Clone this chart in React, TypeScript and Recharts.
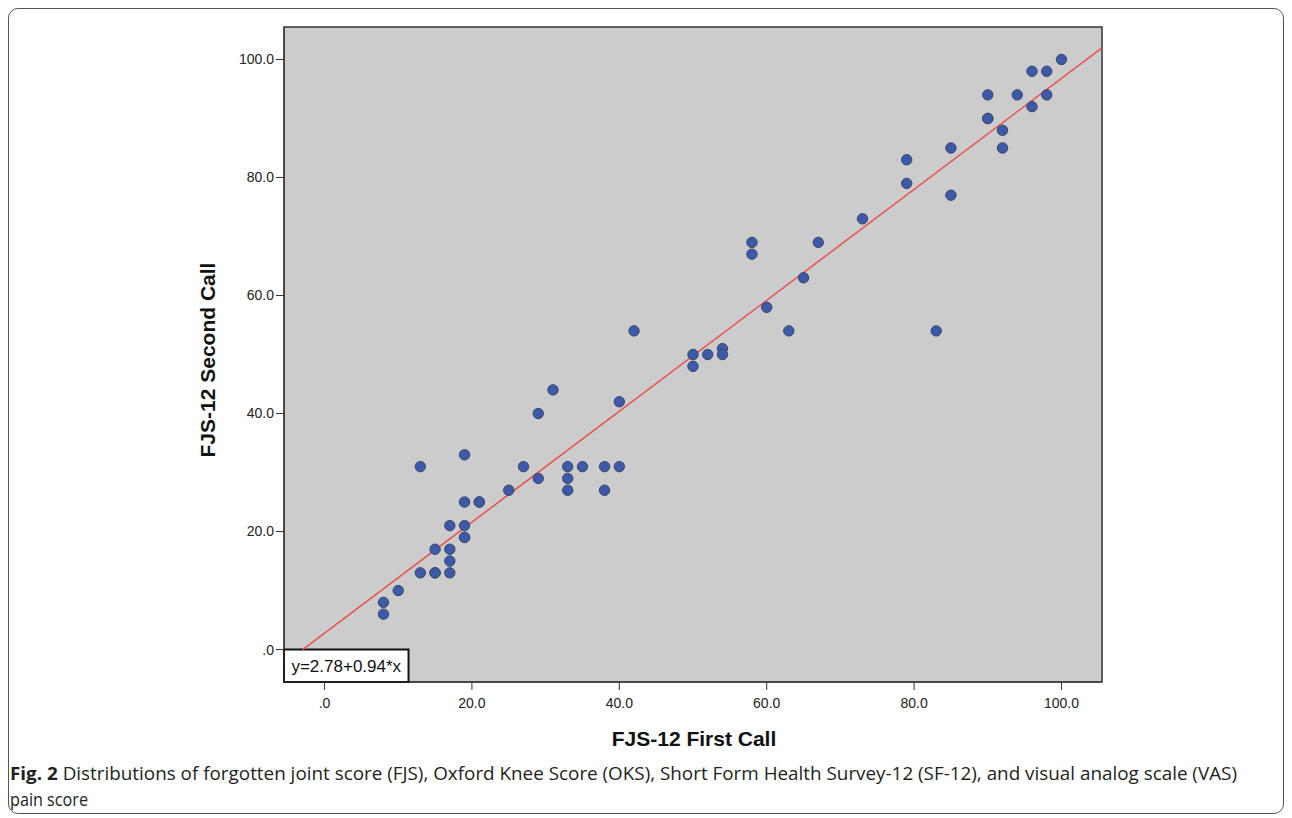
import {
  CartesianGrid,
  ReferenceArea,
  ReferenceLine,
  Scatter,
  ScatterChart,
  XAxis,
  YAxis,
} from "recharts";

// FJS-12 scores, one entry per patient (first call -> second call)
const firstCall = [
  8, 8, 10,
  13, 13,
  15, 15, 15,
  17, 17, 17, 17,
  19, 19, 19, 19, 19,
  21, 21,
  25, 27,
  29, 29,
  31,
  33, 33, 33,
  35,
  38, 38,
  40, 40,
  42,
  50, 50, 52, 54, 54,
  58, 58, 60, 63, 65, 67,
  73, 79, 79, 83, 85, 85,
  90, 90, 90, 92, 92, 94,
  96, 96, 98, 98, 100,
];

const secondCall = [
  8, 6, 10,
  31, 13,
  17, 13, 13,
  21, 17, 15, 13,
  33, 25, 21, 19, 19,
  25, 25,
  27, 31,
  40, 29,
  44,
  31, 29, 27,
  31,
  31, 27,
  42, 31,
  54,
  50, 48, 50, 51, 50,
  69, 67, 58, 54, 63, 69,
  73, 83, 79, 54, 85, 77,
  94, 90, 90, 88, 85, 94,
  98, 92, 98, 94, 100,
];

const axisTicks = [0, 20, 40, 60, 80, 100];
const axisDomain: [number, number] = [-5.5, 105.5];

const fitIntercept = 2.78;
const fitSlope = 0.94;
const fitLabel = "y=2.78+0.94*x";

const points = firstCall.map((x, i) => ({ x, y: secondCall[i] }));

const fmtTick = (v: number) => (v === 0 ? ".0" : v.toFixed(1));

const arial = "'Liberation Sans', Arial, sans-serif";

const tickStyle = {
  fontSize: 14,
  fill: "#222",
  fontFamily: arial,
};

const Dot = (props: any) => (
  <circle
    cx={props.cx}
    cy={props.cy}
    r={5.2}
    fill="#3d5aa9"
    stroke="#3b4466"
    strokeWidth={1}
  />
);

export default function App() {
  const lineStartX = -fitIntercept / fitSlope;
  const lineEndX = axisDomain[1];

  return (
    <div style={{ position: "relative", width: 1276, height: 806 }}>
      <div
        style={{
          position: "absolute",
          inset: 0,
          border: "1px solid #555",
          borderRadius: 10,
          boxSizing: "border-box",
        }}
      />
      <ScatterChart
        width={1276}
        height={806}
        margin={{ top: 19, right: 182, left: 200, bottom: 92 }}
      >
        <CartesianGrid fill="#cccccc" horizontal={false} vertical={false} />
        <XAxis
          type="number"
          dataKey="x"
          domain={axisDomain}
          ticks={axisTicks}
          tickFormatter={fmtTick}
          tick={tickStyle}
          tickSize={8}
          tickMargin={8}
          height={40}
          stroke="#333"
          allowDataOverflow
        />
        <YAxis
          type="number"
          dataKey="y"
          domain={axisDomain}
          ticks={axisTicks}
          tickFormatter={fmtTick}
          tick={tickStyle}
          tickSize={8}
          tickMargin={2}
          width={76}
          stroke="#333"
          allowDataOverflow
        />
        <Scatter data={points} shape={Dot} isAnimationActive={false} />
        <ReferenceLine
          segment={[
            { x: lineStartX, y: 0 },
            { x: lineEndX, y: fitIntercept + fitSlope * lineEndX },
          ]}
          stroke="#e8504f"
          strokeWidth={1.5}
          ifOverflow="visible"
        />
        <ReferenceArea
          x1={axisDomain[0]}
          x2={axisDomain[1]}
          y1={axisDomain[0]}
          y2={axisDomain[1]}
          fill="none"
          stroke="#333"
          strokeWidth={1.5}
        />
        <ReferenceArea
          x1={axisDomain[0]}
          x2={11.4}
          y1={axisDomain[0]}
          y2={0}
          fill="#ffffff"
          fillOpacity={1}
          stroke="#111"
          strokeWidth={2}
          label={{
            value: fitLabel,
            position: "center",
            fill: "#111",
            fontSize: 17,
            fontFamily: arial,
          }}
        />
      </ScatterChart>

      <div
        style={{
          position: "absolute",
          left: 686,
          top: 731,
          transform: "translate(-50%, -50%)",
          whiteSpace: "nowrap",
          fontFamily: arial,
          fontWeight: 700,
          fontSize: 21,
          color: "#111",
        }}
      >
        FJS-12 First Call
      </div>
      <div
        style={{
          position: "absolute",
          left: 200,
          top: 352,
          transform: "translate(-50%, -50%) rotate(-90deg)",
          whiteSpace: "nowrap",
          fontFamily: arial,
          fontWeight: 700,
          fontSize: 21,
          color: "#111",
        }}
      >
        FJS-12 Second Call
      </div>

      <svg
        width={1276}
        height={60}
        style={{ position: "absolute", left: 0, top: 752 }}
      >
        <text
          x={2}
          y={20}
          fontFamily="'Open Sans', sans-serif"
          fontSize={18}
          fill="#231f20"
          textLength={1227}
          lengthAdjust="spacingAndGlyphs"
        >
          <tspan fontWeight={700}>Fig. 2</tspan> Distributions of forgotten
          joint score (FJS), Oxford Knee Score (OKS), Short Form Health
          Survey-12 (SF-12), and visual analog scale (VAS)
        </text>
        <text
          x={2}
          y={46}
          fontFamily="'Open Sans', sans-serif"
          fontSize={18}
          fill="#231f20"
          textLength={78}
          lengthAdjust="spacingAndGlyphs"
        >
          pain score
        </text>
      </svg>
    </div>
  );
}
